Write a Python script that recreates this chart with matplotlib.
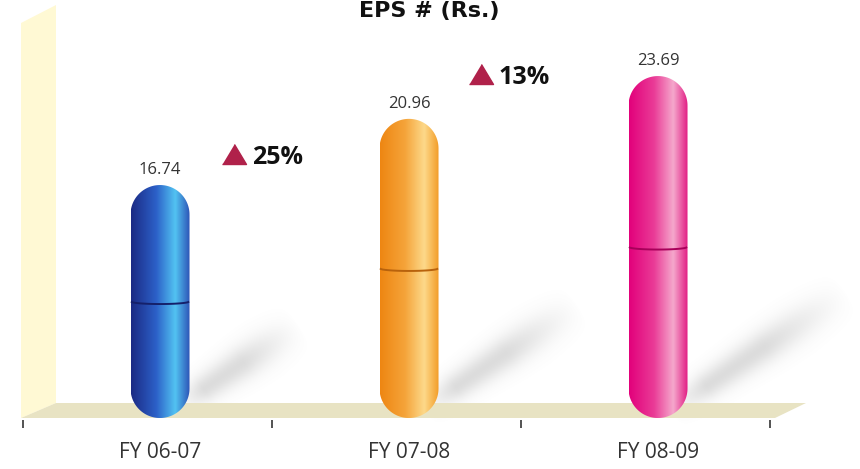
import numpy as np
import matplotlib
matplotlib.use("Agg")
import matplotlib.pyplot as plt
from matplotlib.path import Path
from matplotlib.patches import PathPatch, Polygon
from matplotlib.colors import LinearSegmentedColormap

years = ["FY 06-07", "FY 07-08", "FY 08-09"]
eps = [16.74, 20.96, 23.69]
growth = ["25%", "13%"]

# gradient stops (left edge -> highlight -> right edge) for each capsule
bar_colors = [
    ["#1b2a84", "#2c60c8", "#52c3f2", "#2a4cb2"],
    ["#ee8612", "#f5a43a", "#fdd98a", "#f29820"],
    ["#e2007b", "#ea3c97", "#f5a8cc", "#e0127f"],
]
seam_colors = ["#15206a", "#b8620c", "#a8005a"]
stops = [0.0, 0.42, 0.74, 1.0]

W, H = 860, 469
fig = plt.figure(figsize=(W / 100, H / 100), dpi=100)

# background layer in pixel coordinates (origin top-left)
bg = fig.add_axes([0, 0, 1, 1], zorder=0)
bg.set_xlim(0, W)
bg.set_ylim(H, 0)
bg.axis("off")

ax = fig.add_axes([0, 0, 1, 1], zorder=1)
ax.patch.set_alpha(0)
ax.axis("off")
ax.set_xlim(-0.6426, 2.8112)
ax.set_ylim(-1.371, 28.54)

floor_level = 1.88
bar_w = 0.237
sx = W / (2.8112 + 0.6426)
sy = H / (28.54 + 1.371)
ry = (bar_w / 2) * sx / sy

# back wall and floor
bg.add_patch(Polygon([(21, 23), (56, 5), (56, 403), (21, 418)],
                     closed=True, fc="#fff9d4", ec="none", zorder=1))

# soft shadows cast by each capsule
yy, xx = np.mgrid[0:H, 0:W] + 0.5
alpha = np.zeros((H, W))
for i, v in enumerate(eps):
    xp, top_d = ax.transData.transform((i, v))
    _, base_d = ax.transData.transform((i, floor_level))
    height = top_d - base_d
    x0 = xp + 0.5 * bar_w * sx + 4
    y0 = H - base_d - 22
    length = 0.52 * height
    ang = np.deg2rad(34)
    ux, uy = np.cos(ang), -np.sin(ang)
    dx, dy = xx - x0, yy - y0
    s = (dx * ux + dy * uy) / length
    d = np.abs(-dx * uy + dy * ux)
    hw = 13 + 6 * np.clip(s, 0, 1) - 6 * np.clip(s - 0.7, 0, 1)
    along = np.clip((s + 0.15) / 0.25, 0, 1) * np.clip((1.05 - s) / 0.55, 0, 1)
    alpha = np.maximum(alpha, 0.27 * np.exp(-(d / hw) ** 2) * along)
shadow = np.zeros((H, W, 4))
shadow[..., :3] = 0.5
shadow[..., 3] = alpha
bg.imshow(shadow, extent=(0, W, H, 0), origin="upper", aspect="auto",
          interpolation="bilinear", zorder=2)

bg.add_patch(Polygon([(21, 418), (56, 403), (806, 403), (775, 418)],
                     closed=True, fc="#e8e3c3", ec="none", zorder=3))


def capsule_path(cx, yb, yt):
    t = np.linspace(0, np.pi, 60)
    top = np.column_stack([cx + bar_w / 2 * np.cos(t), yt - ry + ry * np.sin(t)])
    bot = np.column_stack([cx - bar_w / 2 * np.cos(t), yb + ry - ry * np.sin(t)])
    return Path(np.vstack([top, bot, top[:1]]), closed=True)


for i, v in enumerate(eps):
    cmap = LinearSegmentedColormap.from_list("c%d" % i, list(zip(stops, bar_colors[i])))
    grad = cmap(np.linspace(0, 1, 256))[None, :, :3]
    path = capsule_path(i, floor_level, v)
    patch = PathPatch(path, fc="none", ec="none", transform=ax.transData)
    ax.add_patch(patch)
    im = ax.imshow(grad, extent=(i - bar_w / 2, i + bar_w / 2, floor_level, v),
                   aspect="auto", interpolation="bilinear", zorder=2)
    im.set_clip_path(patch)

    # seam where the two halves of the capsule meet
    u = np.linspace(-1, 1, 50)
    mid = (floor_level + v) / 2
    ax.plot(i + u * bar_w / 2 * 0.985, mid - 0.16 * np.sqrt(1 - u ** 2),
            color=seam_colors[i], lw=1.4, zorder=3, solid_capstyle="butt")

    ax.annotate("%.2f" % v, xy=(i, v), xytext=(0, 11), textcoords="offset pixels",
                ha="center", va="baseline", fontsize=12, family="Open Sans",
                color="#333333")
    ax.text(i, -0.29, years[i], ha="center", va="center", fontsize=15,
            family="Open Sans", color="#333333")

# category separators
for k in range(4):
    ax.plot([k - 0.55, k - 0.55], [1.25, 1.75], color="#444444", lw=1.3,
            zorder=3, solid_capstyle="butt")

# year-on-year growth markers
growth_x = [0.297, 1.289]
growth_y = [18.08, 23.2]
for gx, gy, g in zip(growth_x, growth_y, growth):
    ax.plot(gx, gy, marker=[(-1.2, 0), (1.2, 0), (0, 2)], markersize=28.8,
            color="#b0214a", linestyle="none", zorder=4)
    ax.annotate(g, xy=(gx, gy), xytext=(18, 0), textcoords="offset pixels",
                ha="left", va="baseline", fontsize=18, fontweight="bold",
                family="Open Sans", color="#111111")

fig.text(429 / W, 1 - 17 / H, "EPS # (Rs.)", ha="center", va="baseline",
         fontsize=16, fontweight="bold", color="#111111")

fig.savefig("out.png", dpi=100)
